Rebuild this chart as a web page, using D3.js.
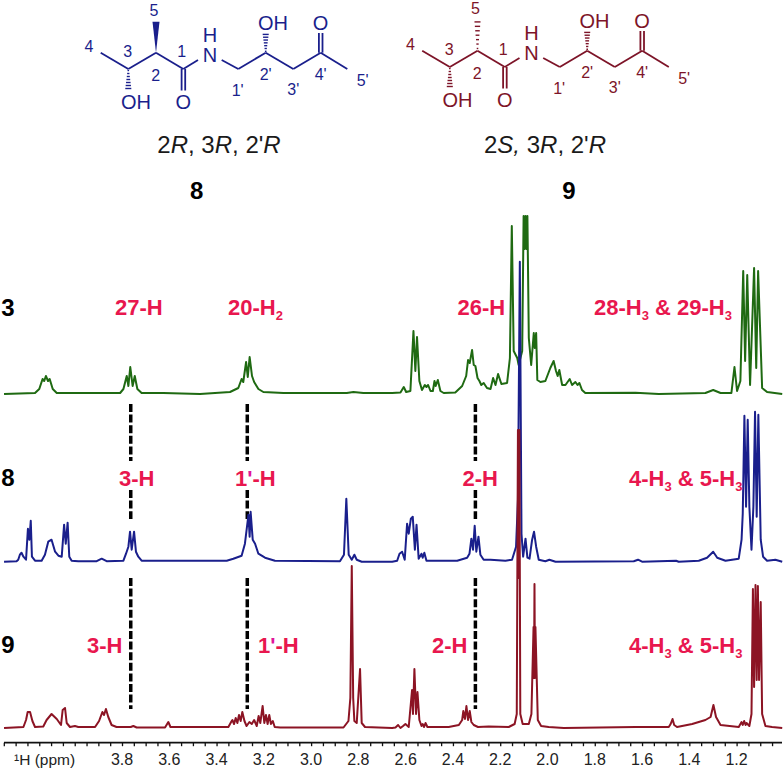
<!DOCTYPE html>
<html>
<head>
<meta charset="utf-8">
<script src="https://cdn.jsdelivr.net/npm/d3@7"></script>
<style>
  html, body { margin: 0; padding: 0; background: #fff; }
  text { font-family: "Liberation Sans", Arial, sans-serif; }
</style>
</head>
<body>
<svg id="chart" width="784" height="770"></svg>
<script>
// [ppm, peak height]
const spectrum3 = [
  [4.299,0],[4.168,1],[4.150,5],[4.136,15],[4.129,13],[4.122,18],[4.113,13],[4.106,15],[4.093,5],[4.076,1],
  [3.921,1],[3.808,1],[3.794,5],[3.780,18],[3.773,8],[3.765,27],[3.755,8],[3.746,18],[3.735,5],[3.717,1],
  [3.625,1],[3.470,0],[3.343,2],[3.308,6],[3.294,15],[3.287,12],[3.275,32],[3.268,17],[3.260,37],[3.250,18],
  [3.241,12],[3.223,5],[3.202,2],[3.117,1],[2.849,1],[2.821,2],[2.779,1],[2.657,1],[2.622,1.5],[2.608,7],
  [2.598,2],[2.580,3],[2.567,63],[2.559,23],[2.552,57],[2.542,13],[2.531,4],[2.519,9],[2.512,7],[2.505,9],
  [2.495,3],[2.485,3],[2.478,13],[2.473,8],[2.464,14],[2.453,3],[2.439,1],[2.390,1.5],[2.361,8],[2.344,18],
  [2.336,34],[2.329,31],[2.319,44],[2.312,29],[2.305,28],[2.296,16],[2.288,13],[2.280,9],[2.270,11],[2.256,6],
  [2.241,5],[2.230,16],[2.220,9],[2.209,20],[2.195,10],[2.171,11],[2.159,36],[2.151,168],[2.143,43],[2.128,36],
  [2.122,29],[2.107,43],[2.101,178],[2.097,145],[2.093,178],[2.089,145],[2.085,178],[2.079,56],[2.069,29],[2.058,61],[2.054,46],[2.048,61],[2.043,14],
  [2.030,12],[2.009,13],[1.988,26],[1.974,33],[1.964,23],[1.957,18],[1.950,24],[1.938,9],[1.924,9],[1.906,15],
  [1.896,9],[1.882,12],[1.873,9],[1.865,11],[1.854,4],[1.840,1],[1.628,1.3],[1.529,0],[1.332,1],[1.299,4],
  [1.268,1],[1.222,1],[1.209,27],[1.198,3],[1.184,13],[1.172,123],[1.164,33],[1.155,119],[1.143,9],[1.126,126],
  [1.117,26],[1.109,123],[1.092,6],[1.071,2],[1.007,0]
];
const spectrum8 = [
  [4.299,0],[4.246,0.5],[4.239,2],[4.232,7],[4.225,9],[4.217,5],[4.206,2],[4.198,33],[4.192,22],[4.186,41],
  [4.181,5],[4.168,1],[4.140,1],[4.126,7],[4.112,20],[4.098,22],[4.083,10],[4.069,6],[4.055,5],[4.045,37],
  [4.038,18],[4.030,39],[4.023,5],[4.013,1],[3.985,0.5],[3.907,0.5],[3.886,3],[3.865,0.5],[3.794,1],[3.783,8],
  [3.773,15],[3.766,30],[3.759,12],[3.749,30],[3.741,10],[3.731,5],[3.717,1],[3.357,1],[3.329,3],[3.294,6],
  [3.280,18],[3.265,47],[3.260,25],[3.256,50],[3.247,22],[3.237,18],[3.223,8],[3.195,4],[3.181,3],[3.153,1],[2.878,0.5],
  [2.861,7],[2.851,63],[2.841,7],[2.828,2],[2.817,7],[2.807,2],[2.786,0],[2.657,0],[2.636,1],[2.626,8],
  [2.615,10],[2.604,2],[2.594,38],[2.587,28],[2.578,43],[2.570,45],[2.561,12],[2.554,37],[2.545,3],[2.533,8],
  [2.528,4],[2.521,9],[2.512,1],[2.382,1],[2.340,4],[2.330,8],[2.322,23],[2.315,12],[2.308,36],[2.301,10],
  [2.292,25],[2.284,7],[2.270,2],[2.241,2],[2.178,1],[2.150,2],[2.133,15],[2.125,62],[2.117,300],[2.110,28],
  [2.103,5],[2.093,23],[2.085,4],[2.076,3],[2.065,22],[2.057,30],[2.048,15],[2.037,2],[2.009,0.5],[1.992,2],
  [1.966,0],[1.635,0.5],[1.617,2],[1.600,0],[1.456,1],[1.445,0],[1.360,1],[1.325,4],[1.299,10],[1.282,4],
  [1.247,1],[1.191,3],[1.179,22],[1.174,48],[1.167,146],[1.160,55],[1.153,142],[1.146,55],[1.137,12],[1.129,55],
  [1.122,150],[1.115,45],[1.108,147],[1.098,22],[1.088,5],[1.071,1],[1.036,2],[1.007,0]
];
const spectrum9 = [
  [4.299,0],[4.217,1],[4.206,8],[4.199,16],[4.189,16],[4.179,7],[4.168,1],[4.133,1.5],[4.119,8],[4.098,14],
  [4.076,9],[4.058,3],[4.051,18],[4.041,20],[4.034,5],[4.020,1],[3.999,2],[3.985,1],[3.914,1],[3.897,7],
  [3.883,16],[3.876,13],[3.868,19],[3.858,11],[3.844,3],[3.823,1],[3.763,1],[3.752,2],[3.738,0.5],[3.618,0.5],
  [3.604,6],[3.595,1],[3.350,1],[3.336,7],[3.333,8],[3.326,4],[3.319,10],[3.312,5],[3.305,13],[3.298,7],
  [3.291,16],[3.282,7],[3.273,2],[3.261,6],[3.251,4],[3.241,8],[3.230,2],[3.222,12],[3.215,5],[3.205,22],
  [3.198,5],[3.191,13],[3.184,4],[3.177,13],[3.170,4],[3.162,7],[3.154,1],[3.131,0.5],[2.863,0.5],[2.842,7],
  [2.834,30],[2.828,162],[2.822,30],[2.817,7],[2.807,5],[2.793,59],[2.786,5],[2.772,1],[2.657,0],[2.643,0.5],[2.632,3],[2.622,0],
  [2.611,2],[2.601,4],[2.587,1],[2.573,38],[2.569,14],[2.563,59],[2.556,14],[2.550,36],[2.542,8],[2.533,2],
  [2.528,4],[2.522,1],[2.516,5],[2.508,1],[2.418,1],[2.375,3],[2.361,8],[2.356,17],[2.349,9],[2.343,22],
  [2.336,8],[2.329,17],[2.322,6],[2.312,3],[2.294,1],[2.249,1.5],[2.164,1],[2.139,4],[2.130,14],[2.125,298],
  [2.122,150],[2.119,298],[2.115,14],[2.105,4],[2.079,4],[2.068,14],[2.059,101],[2.057,50],[2.055,144],[2.053,50],[2.051,101],[2.041,8],[2.027,2],
  [1.995,1],[1.931,0],[1.627,1],[1.487,1],[1.479,4],[1.471,9],[1.464,3],[1.452,1],[1.388,4],[1.332,8],
  [1.310,11],[1.298,23],[1.287,11],[1.268,3],[1.191,1],[1.179,6],[1.174,3],[1.168,7],[1.162,3],[1.158,5],
  [1.146,2],[1.137,14],[1.131,139],[1.126,41],[1.120,143],[1.115,48],[1.110,142],[1.105,48],[1.098,126],[1.092,14],
  [1.078,2],[1.050,1],[1.007,0]
];

const tickLabels = [3.8, 3.6, 3.4, 3.2, 3.0, 2.8, 2.6, 2.4, 2.2, 2.0, 1.8, 1.6, 1.4, 1.2];
const guidePpm = [3.763, 3.27, 2.305];

const svg = d3.select("#chart");

const GREEN = "#1f6a12", BLUE = "#1a1f8c", RED = "#8c1424", PINK = "#e8174e", MAGENTA = "#e0159a";

// 3.8 sits at px 122, 1.2 at px 736.6
const x = d3.scaleLinear().domain([3.8, 1.2]).range([122, 736.6]);

function drawSpectrum(points, base, colour) {
  const y = d3.scaleLinear().domain([0, 400]).range([base, base - 400]);
  const line = d3.line().x((d) => x(d[0])).y((d) => y(d[1]));
  svg.append("path")
    .attr("d", line(points))
    .attr("fill", "none")
    .attr("stroke", colour)
    .attr("stroke-width", 2)
    .attr("stroke-linejoin", "round");
}

// guides go under the traces
const guideSpans = [[404, 461], [490, 519], [578, 709]];
guideSpans.forEach((span) => {
  svg.selectAll(null)
    .data(guidePpm)
    .enter()
    .append("line")
    .attr("x1", (d) => x(d))
    .attr("x2", (d) => x(d))
    .attr("y1", span[0])
    .attr("y2", span[1])
    .attr("stroke", "#000")
    .attr("stroke-width", 3.5)
    .attr("stroke-dasharray", "8 2.6");
});

drawSpectrum(spectrum3, 394, GREEN);
drawSpectrum(spectrum8, 561.7, BLUE);
drawSpectrum(spectrum9, 728, RED);

// axis: minor every 0.05, labels every 0.2
const minorTicks = d3.range(0, 67).map((i) => +(4.3 - i * 0.05).toFixed(2)).filter((v) => v >= 1.02);
const axisG = svg.append("g").attr("transform", "translate(0,742.7)");
axisG.call(
  d3.axisBottom(x)
    .tickValues(minorTicks)
    .tickSize(3.5)
    .tickFormat(() => "")
);
axisG.select(".domain").remove();
axisG.append("line").attr("x1", 4).attr("x2", 782).attr("stroke", "#111").attr("stroke-width", 1.8);
axisG.selectAll(".tick line").attr("stroke", "#111").attr("stroke-width", 1.3);
axisG.selectAll(".tick text").remove();

svg.selectAll(".ticklabel")
  .data(tickLabels)
  .enter()
  .append("text")
  .attr("class", "ticklabel")
  .attr("x", (d) => x(d))
  .attr("y", 764.5)
  .attr("text-anchor", "middle")
  .attr("font-size", 16)
  .attr("fill", "#222")
  .text((d) => d.toFixed(1));

svg.append("text")
  .attr("x", 14)
  .attr("y", 764.5)
  .attr("font-size", 15.5)
  .attr("fill", "#222")
  .text("\u00b9H (ppm)");

// left hand compound numbers
[["3", 315.5], ["8", 485.5], ["9", 652.5]].forEach((d) => {
  svg.append("text")
    .attr("x", 8)
    .attr("y", d[1])
    .attr("text-anchor", "middle")
    .attr("font-size", 24)
    .attr("font-weight", "bold")
    .text(d[0]);
});

// peak labels: parts are [string, kind]
function peakLabel(px, py, parts) {
  const t = svg.append("text")
    .attr("x", px)
    .attr("y", py)
    .attr("font-size", 22)
    .attr("font-weight", "bold")
    .attr("fill", PINK);
  parts.forEach((p) => {
    const span = t.append("tspan").text(p[0]);
    if (p[1] === "sub") span.attr("font-size", 13).attr("dy", 5);
    if (p[1] === "after") span.attr("dy", -5);
    if (p[1] === "tick") span.attr("fill", MAGENTA);
  });
}

const sub3 = ["3", "sub"];
peakLabel(115, 315, [["27-H"]]);
peakLabel(228, 315, [["20-H"], ["2", "sub"]]);
peakLabel(457.5, 315, [["26-H"]]);
peakLabel(594, 315, [["28-H"], sub3, [" & 29-H", "after"], sub3]);
peakLabel(119, 486, [["3-H"]]);
peakLabel(235, 486, [["1"], ["'", "tick"], ["-H"]]);
peakLabel(462.5, 486, [["2-H"]]);
peakLabel(629, 486, [["4-H"], sub3, [" & 5-H", "after"], sub3]);
peakLabel(87, 653, [["3-H"]]);
peakLabel(258, 653, [["1"], ["'", "tick"], ["-H"]]);
peakLabel(432, 653, [["2-H"]]);
peakLabel(629, 653, [["4-H"], sub3, [" & 5-H", "after"], sub3]);

// molecule sketch, drawn once per compound at an offset
const chainBonds = [
  [[100.7, 52.7], [128.3, 69]],
  [[128.3, 69], [156, 52.7]],
  [[156, 52.7], [183.3, 69]],
  [[183.3, 69], [198, 60]],
  [[221.7, 60], [238.3, 69]],
  [[238.3, 69], [265.7, 52.7]],
  [[265.7, 52.7], [293.3, 69]],
  [[293.3, 69], [320.7, 52.7]],
  [[320.7, 52.7], [347.3, 69]]
];
const doubleBonds = [
  [[181.6, 69], [181.6, 90.5]],
  [[185.2, 69], [185.2, 90.5]],
  [[318.9, 52.7], [318.9, 33]],
  [[322.5, 52.7], [322.5, 33]]
];
const hashBonds = [
  [[128.3, 69], [128.3, 90]],
  [[265.7, 52.7], [265.7, 33]]
];
const atomLabels = [
  ["OH", 136, 109, 20], ["O", 183.3, 109, 20],
  ["OH", 273, 30, 20], ["O", 320.5, 30, 20],
  ["5", 154, 15.7, 16], ["4", 89, 52.4, 16], ["3", 127.7, 56.7, 16], ["2", 155.7, 80.7, 16], ["1", 181.7, 57.4, 16],
  ["1'", 237.7, 95.7, 16], ["2'", 265.7, 79.7, 16], ["3'", 293.3, 94.7, 16], ["4'", 320.7, 79.7, 16], ["5'", 362.7, 85.7, 16]
];

function drawMolecule(dx, dy, colour, wedgeDashed) {
  const g = svg.append("g").attr("transform", `translate(${dx},${dy})`);
  chainBonds.concat(doubleBonds).forEach((b) => {
    g.append("line")
      .attr("x1", b[0][0]).attr("y1", b[0][1])
      .attr("x2", b[1][0]).attr("y2", b[1][1])
      .attr("stroke", colour)
      .attr("stroke-width", 1.8);
  });
  const hashes = wedgeDashed ? hashBonds.concat([[[156, 52.7], [156, 21.7]]]) : hashBonds;
  hashes.forEach((b) => {
    const n = 7;
    d3.range(n).forEach((i) => {
      const f = (i + 0.5) / n;
      const cx = b[0][0] + (b[1][0] - b[0][0]) * f;
      const cy = b[0][1] + (b[1][1] - b[0][1]) * f;
      g.append("line")
        .attr("x1", cx - 0.6 - f * 2.6).attr("x2", cx + 0.6 + f * 2.6)
        .attr("y1", cy).attr("y2", cy)
        .attr("stroke", colour)
        .attr("stroke-width", 1.4);
    });
  });
  if (!wedgeDashed) {
    g.append("path")
      .attr("d", d3.line()([[156, 52.7], [152.5, 21.7], [159.5, 21.7]]) + "Z")
      .attr("fill", colour);
  }
  atomLabels.forEach((a) => {
    g.append("text")
      .attr("x", a[1])
      .attr("y", a[2])
      .attr("text-anchor", "middle")
      .attr("font-size", a[3])
      .attr("fill", colour)
      .text(a[0]);
  });
  // H stacked over N as one text
  const nh = g.append("text")
    .attr("text-anchor", "middle")
    .attr("font-size", 20)
    .attr("fill", colour);
  nh.append("tspan").attr("x", 210).attr("y", 41.5).text("H");
  nh.append("tspan").attr("x", 210).attr("y", 61.5).text("N");
}

drawMolecule(0, 0, BLUE, false);
drawMolecule(321.5, -2, "#7d1428", true);

// stereo descriptors, R and S in italic
function stereo(cx, parts) {
  const t = svg.append("text")
    .attr("x", cx)
    .attr("y", 152.5)
    .attr("text-anchor", "middle")
    .attr("font-size", 24)
    .attr("fill", "#1a1a1a");
  parts.forEach((p) => {
    t.append("tspan").attr("font-style", p[1] ? "italic" : "normal").text(p[0]);
  });
}
stereo(219, [["2"], ["R", 1], [", 3"], ["R", 1], [", 2'"], ["R", 1]]);
stereo(545, [["2"], ["S, ", 1], ["3"], ["R", 1], [", 2'"], ["R", 1]]);

[["8", 196.7], ["9", 569]].forEach((d) => {
  svg.append("text")
    .attr("x", d[1])
    .attr("y", 199)
    .attr("text-anchor", "middle")
    .attr("font-size", 24)
    .attr("font-weight", "bold")
    .text(d[0]);
});
</script>
</body>
</html>
